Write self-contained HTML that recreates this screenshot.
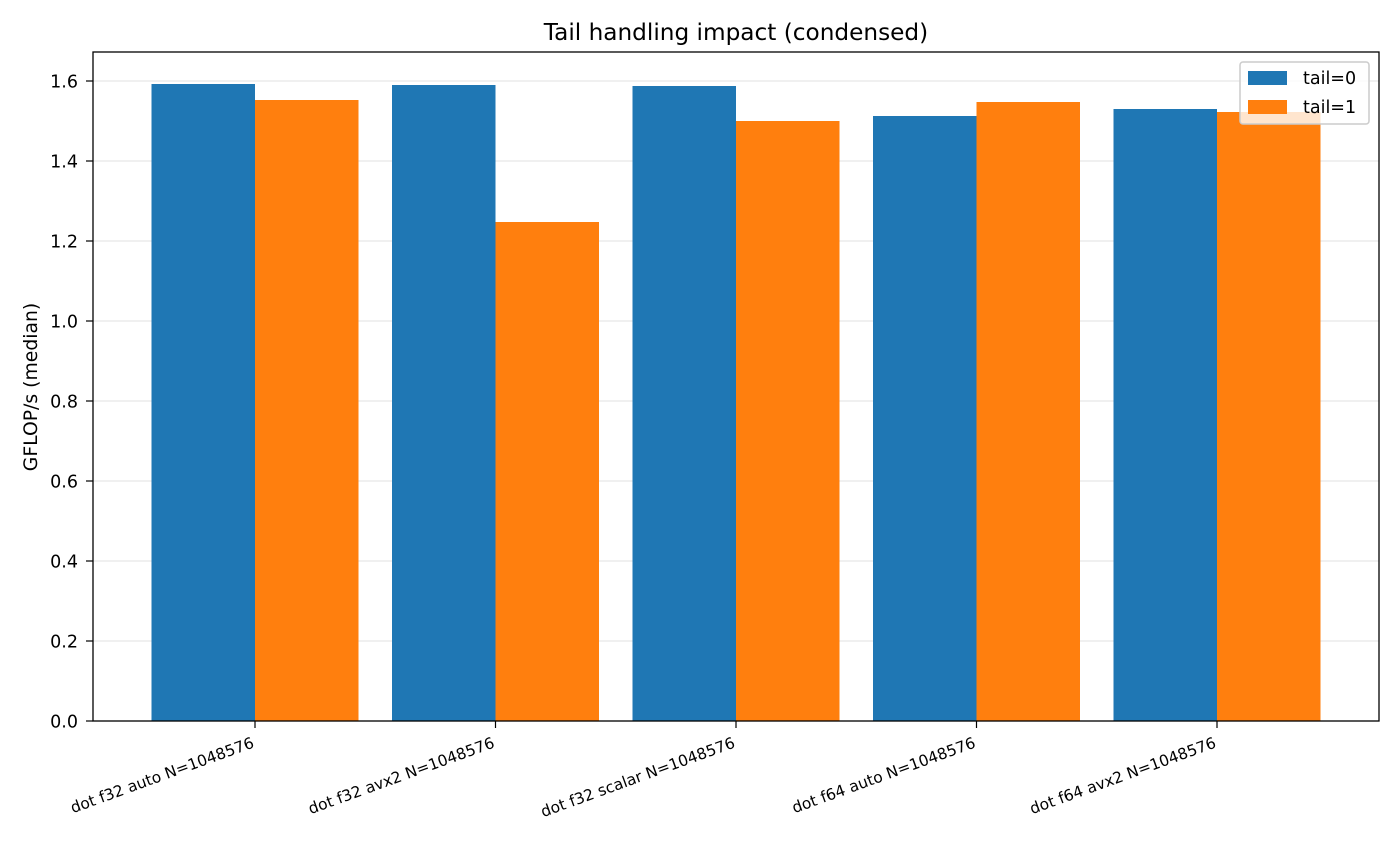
<!DOCTYPE html>
<html><head><meta charset="utf-8"><style>
body{margin:0;background:#fff;}
svg text{font-family:"DejaVu Sans","Liberation Sans",sans-serif;}
</style></head><body>
<svg id="chart" width="1400" height="840">
<text x="736" y="40" text-anchor="middle" font-size="23.2">Tail handling impact (condensed)</text>
<text transform="translate(37,387) rotate(-90)" text-anchor="middle" font-size="18.8">GFLOP/s (median)</text>
<g id="grid"></g><g id="bars"></g><g id="axes"></g>
<g>
<rect x="1240" y="62" width="129" height="62" fill="#fff" fill-opacity="0.8" stroke="#ccc" stroke-width="1.5" rx="3"/>
<rect x="1248" y="71" width="39" height="14" fill="#1f77b4"/>
<text x="1303" y="84" font-size="17.5">tail=0</text>
<rect x="1248" y="100" width="39" height="14" fill="#ff7f0e"/>
<text x="1303" y="113" font-size="17.5">tail=1</text>
</g>
</svg>
<script>
const categories=["dot f32 auto N=1048576","dot f32 avx2 N=1048576","dot f32 scalar N=1048576","dot f64 auto N=1048576","dot f64 avx2 N=1048576"];
const tail0=[1.5925,1.59,1.5875,1.5125,1.53];
const tail1=[1.5525,1.2475,1.50,1.5475,1.5225];
const yTicks=[0,0.2,0.4,0.6,0.8,1.0,1.2,1.4,1.6];
const L=93,R=1379,T=52,B=721;
const x=i=>255+(i)*240.5;
const y=v=>B-v*400;
const bw=103.5;
const NS="http://www.w3.org/2000/svg";
function mk(p,tag,a){const e=document.createElementNS(NS,tag);for(const k in a)e.setAttribute(k,a[k]);document.getElementById(p).appendChild(e);return e;}
yTicks.forEach(t=>{
 const g=mk('grid','line',{x1:L,x2:R,y1:y(t),y2:y(t),stroke:'#e6e6e6','stroke-width':1.2});
 
 
 const tk=mk('axes','line',{x1:L-7,x2:L,y1:y(t),y2:y(t),stroke:'#000','stroke-width':1.2});
 
 
 const lb=mk('axes','text',{x:L-15,y:y(t)+6.5,'text-anchor':'end','font-size':17.5});
 lb.textContent=t.toFixed(1);
 
 
});
categories.forEach((c,i)=>{
 const b0=mk('bars','rect',{x:x(i)-bw,y:y(tail0[i]),width:bw,height:B-y(tail0[i]),fill:'#1f77b4'});
 
 
 const b1=mk('bars','rect',{x:x(i),y:y(tail1[i]),width:bw,height:B-y(tail1[i]),fill:'#ff7f0e'});
 
 
 const tk=mk('axes','line',{x1:x(i),x2:x(i),y1:B,y2:B+7,stroke:'#000','stroke-width':1.2});
 
 
 const lb=mk('axes','text',{transform:`translate(${x(i)},${B+26}) rotate(-20)`,'text-anchor':'end','font-size':15.5});
 lb.textContent=c;
 
 
});
const fr=mk('axes','rect',{x:L,y:T,width:R-L,height:B-T,fill:'none',stroke:'#000','stroke-width':1.3});


</script>
</body></html>
